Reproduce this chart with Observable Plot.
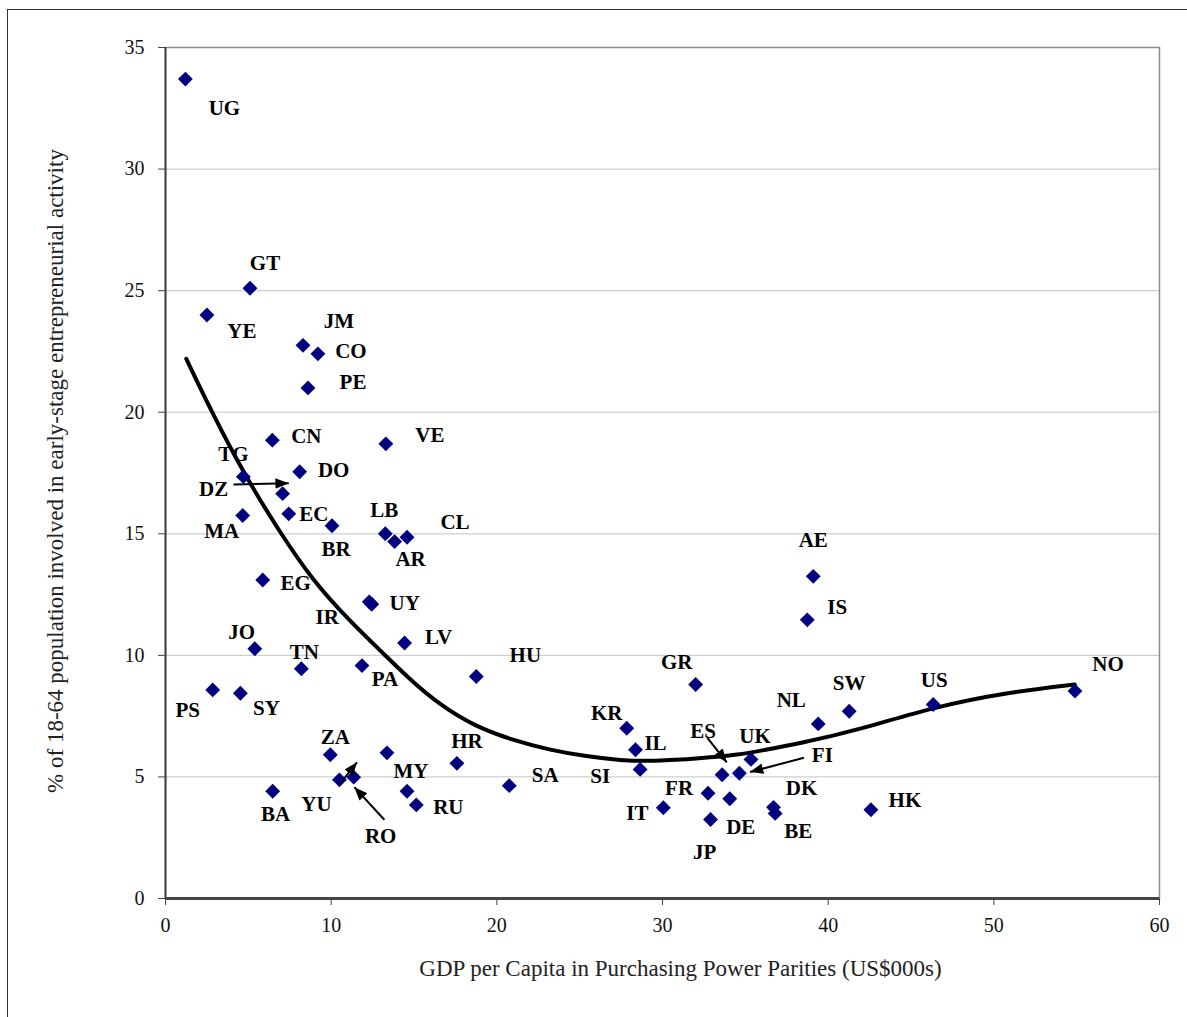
<!DOCTYPE html>
<html>
<head>
<meta charset="utf-8">
<script src="https://cdn.jsdelivr.net/npm/d3@7"></script>
<script src="https://cdn.jsdelivr.net/npm/@observablehq/plot@0.6"></script>
<style>
  html, body { margin: 0; padding: 0; background: #fff; overflow: hidden; }
  #wrap { position: relative; width: 1187px; height: 1017px; }
  #border { position: absolute; left: 7px; top: 9px; width: 1300px; height: 1100px; border-left: 1.5px solid #333; border-top: 1.5px solid #333; }
  #chart { position: absolute; left: 0; top: 0; }
</style>
</head>
<body>
<div id="wrap"><div id="border"></div><div id="chart"></div></div>
<script>
// ---- data ----
const codes = ["UG","GT","YE","JM","CO","PE","CN","VE","TG","DZ","DO","EC","MA","BR","LB","AR","CL","EG","IR","UY","LV","JO","TN","PA","HU","PS","SY","ZA","MY","YU","RO","BA","","RU","HR","SA","KR","IL","SI","GR","ES","FI","UK","FR","DE","IT","JP","DK","BE","HK","NL","SW","US","NO","AE","IS"];
const gdp = [1.2,5.1,2.5,8.3,9.2,8.6,6.45,13.3,4.7,7.07,8.1,7.44,4.66,10.05,13.27,13.83,14.58,5.87,12.3,12.45,14.43,5.39,8.2,11.86,18.76,2.85,4.52,9.95,13.37,10.5,11.36,6.47,14.58,15.14,17.59,20.75,27.84,28.37,28.65,32.0,33.6,34.64,35.34,32.75,34.06,30.05,32.9,36.7,36.8,42.58,39.4,41.27,46.34,54.9,39.1,38.74];
const tea = [33.7,25.1,24.0,22.75,22.4,21.0,18.85,18.7,17.35,16.65,17.55,15.82,15.75,15.33,15.0,14.68,14.86,13.1,12.2,12.1,10.51,10.27,9.45,9.58,9.13,8.58,8.44,5.91,5.99,4.88,4.99,4.41,4.41,3.85,5.56,4.64,7.0,6.12,5.31,8.8,5.09,5.15,5.72,4.33,4.1,3.73,3.25,3.75,3.5,3.65,7.18,7.7,7.98,8.53,13.25,11.46];

// trend line
const trendX = [1.25,2.78,4.73,6.94,8.89,11.06,13.28,14.89,16.6,18.61,21.0,23.24,25.43,27.44,29.45,32.27,34.68,36.0,38.3,41.92,46.32,50.97,54.89];
const trendY = [22.2,20.03,17.47,15.02,13.08,11.45,9.99,8.92,7.95,7.1,6.5,6.1,5.84,5.68,5.64,5.76,5.92,6.09,6.38,6.95,7.87,8.49,8.8];

// annotation arrows (data units)
const arrowX1 = [4.10,10.55,13.21,32.71,38.54];
const arrowY1 = [17.03,4.74,3.24,6.61,5.79];
const arrowX2 = [7.44,11.56,11.40,33.88,35.28];
const arrowY2 = [17.08,5.60,4.58,5.60,5.20];

const xTicks = [0,10,20,30,40,50,60];
const yTicks = [0,5,10,15,20,25,30,35];
const xTitle = "GDP per Capita in Purchasing Power Parities (US$000s)";
const yTitle = "% of 18-64 population involved in early-stage entrepreneurial activity";

// ---- layout: label offsets in pixels relative to each point ----
const labelOffset = {
  UG:[39,29], GT:[15,-25], YE:[35,16], JM:[36,-24], CO:[33,-3], PE:[45,-6], CN:[34,-4], VE:[44,-9],
  TG:[-10,-22], DZ:[-69,-4], DO:[34,-2], EC:[25,0], MA:[-21,16], BR:[4,24], LB:[-1,-24], AR:[16,18],
  CL:[48,-15], EG:[33,3], IR:[-42,15], UY:[33,-1], LV:[34,-6], JO:[-13,-17], TN:[3,-16], PA:[23,14],
  HU:[49,-21], PS:[-25,20], SY:[26,15], ZA:[5,-18], MY:[24,18], YU:[-23,24], RO:[27,59], BA:[3,23],
  RU:[32,2], HR:[10,-22], SA:[36,-10], KR:[-20,-15], IL:[20,-6], SI:[-40,7], GR:[-19,-22], ES:[-19,-43],
  FI:[83,-18], UK:[4,-23], FR:[-29,-5], DE:[11,28], IT:[-26,5], JP:[-6,33], DK:[28,-19], BE:[23,18],
  HK:[34,-9], NL:[-27,-24], SW:[0,-28], US:[1,-24], NO:[33,-27], AE:[0,-36], IS:[30,-13]
};

const points = codes.map((c, i) => ({code: c, x: gdp[i], y: tea[i]}));
const trend = trendX.map((x, i) => ({x, y: trendY[i]}));
const arrows = arrowX1.map((x1, i) => ({x1, y1: arrowY1[i], x2: arrowX2[i], y2: arrowY2[i]}));

const labelMarks = points.filter(p => p.code).map(p => Plot.text([p], {
  x: "x", y: "y", text: "code",
  dx: labelOffset[p.code][0], dy: labelOffset[p.code][1],
  fontWeight: "bold", fontSize: 21, fill: "#000"
}));

const chart = Plot.plot({
  width: 1187,
  height: 1017,
  marginLeft: 165,
  marginRight: 28,
  marginTop: 47,
  marginBottom: 119,
  style: {fontFamily: "'Liberation Serif', 'DejaVu Serif', serif", fontSize: "20px", color: "#111", background: "transparent"},
  x: {domain: [0, 60]},
  y: {domain: [0, 35]},
  marks: [
    Plot.gridY(yTicks, {stroke: "#cfcfcf", strokeOpacity: 1, strokeWidth: 1.2}),
    Plot.frame({stroke: "#8a8a8a", strokeWidth: 1.5}),
    Plot.axisX(xTicks, {tickSize: 7, tickPadding: 12, label: null, fontSize: 20, stroke: "#444"}),
    Plot.axisY(yTicks, {tickSize: 7, tickPadding: 14, label: null, fontSize: 20, stroke: "#444"}),
    Plot.ruleX([0], {stroke: "#444", strokeWidth: 2}),
    Plot.ruleY([0], {stroke: "#444", strokeWidth: 3}),
    Plot.line(trend, {x: "x", y: "y", curve: "basis", stroke: "#000", strokeWidth: 4}),
    Plot.dot(points, {x: "x", y: "y", symbol: "diamond2", r: 6.7, fill: "#000080", stroke: "none"}),
    Plot.link(arrows, {x1: "x1", y1: "y1", x2: "x2", y2: "y2", stroke: "#000", strokeWidth: 2, markerEnd: "arrow"}),
    ...labelMarks,
    Plot.text([xTitle], {frameAnchor: "bottom", text: d => d, dy: 77, dx: 18, fontSize: 23, fill: "#222"}),
    Plot.text([yTitle], {frameAnchor: "left", textAnchor: "middle", text: d => d, dx: -110, dy: -2, rotate: -90, fontSize: 23, fill: "#222"})
  ]
});

// filled triangular arrow heads
chart.querySelectorAll("marker").forEach(m => {
  m.setAttribute("viewBox", "-10 -5 10 10");
  m.setAttribute("fill", "#000");
  const p = m.querySelector("path");
  if (p) { p.setAttribute("d", "M-10,-4L0,0L-10,4Z"); p.setAttribute("stroke", "none"); p.setAttribute("fill", "#000"); }
});

document.getElementById("chart").appendChild(chart);
</script>
</body>
</html>
